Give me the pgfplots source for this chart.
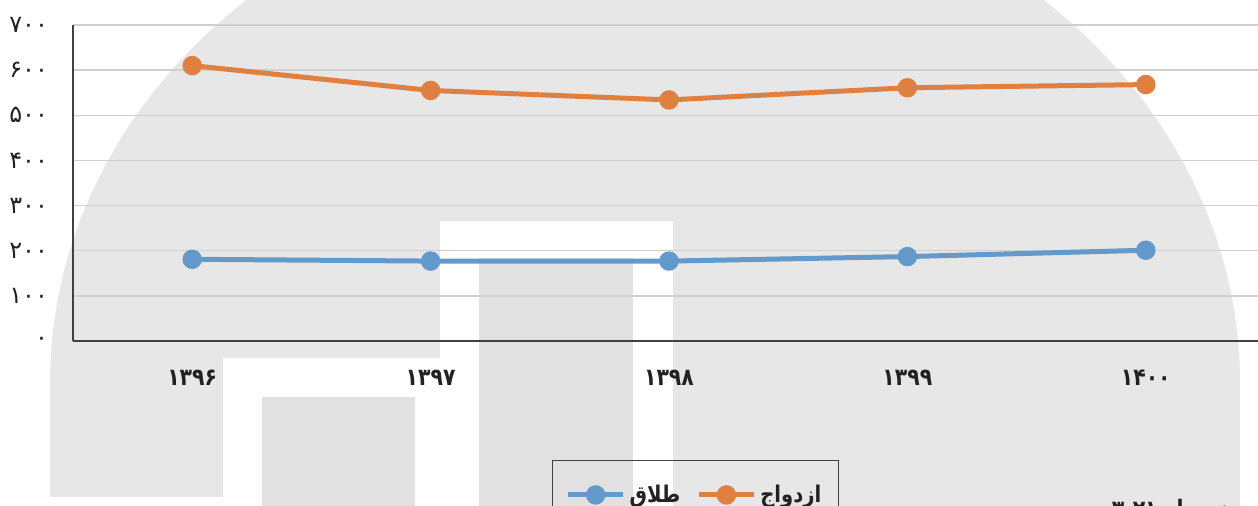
\documentclass[border=0pt]{standalone}
\usepackage{fontspec}
\usepackage{pgfplots}
\pgfplotsset{compat=1.18}
\TeXXeTstate=1
\newfontfamily\fa[Script=Arabic]{DejaVu Sans}
\newfontfamily\facond[Script=Arabic,FakeStretch=0.85]{DejaVu Sans}

\definecolor{orng}{HTML}{DF7F40}
\definecolor{blu}{HTML}{6499CB}
\definecolor{wm}{HTML}{E7E7E7}
\definecolor{wmdark}{HTML}{E1E1E1}
\definecolor{gridc}{HTML}{D0D0D0}
\definecolor{axc}{HTML}{404040}
\definecolor{txt}{HTML}{222222}

\begin{document}
\begin{tikzpicture}
\path[use as bounding box] (0,0) rectangle (629pt,253pt);
\clip (0,0) rectangle (629pt,253pt);

% watermark in the background (pixel units, y up)
\begin{scope}[x=0.5pt,y=0.5pt]
  \fill[wm] (50,0) -- (50,123) arc[start angle=180,end angle=0,x radius=595,y radius=516] -- (1240,0) -- cycle;
  \fill[white] (50,0) rectangle (223,9);
  \fill[white] (223,0) rectangle (479,148);
  \fill[white] (440,0) rectangle (479,285);
  \fill[white] (440,248) rectangle (673,285);
  \fill[white] (633,0) rectangle (673,285);
  \fill[wmdark] (262,0) rectangle (415,109);
  \fill[wmdark] (479,0) rectangle (633,248);
\end{scope}

\begin{axis}[
  at={(36.5pt,82.5pt)}, anchor=south west,
  scale only axis, width=596pt, height=158pt,
  xmin=-0.5, xmax=4.5, ymin=0, ymax=700,
  axis lines*=left,
  axis line style={draw=axc, line width=0.9pt, -},
  major tick length=0pt,
  xtick={0,1,2,3,4},
  xticklabels={۱۳۹۶,۱۳۹۷,۱۳۹۸,۱۳۹۹,۱۴۰۰},
  ytick={0,100,...,700},
  yticklabels={۰,۱۰۰,۲۰۰,۳۰۰,۴۰۰,۵۰۰,۶۰۰,۷۰۰},
  ymajorgrids, grid style={gridc, line width=0.7pt},
  yticklabel style={font=\fa\fontsize{12}{13}\selectfont, text=txt, xshift=-9pt},
  xticklabel style={font=\facond\bfseries\fontsize{12}{13}\selectfont, text=txt, yshift=-11pt},
  clip=false,
  legend columns=2,
  legend cell align=left,
  legend image code/.code={\draw[mark repeat=2,mark phase=2] plot coordinates {(0pt,0pt) (13.75pt,0pt) (27.5pt,0pt)};},
  legend style={at={(0.4018,-0.3766)}, anchor=north west, draw=axc, line width=0.7pt, fill=none,
    font=\facond\bfseries\fontsize{11.5}{13}\selectfont, text=txt,
    inner xsep=6.5pt, inner ysep=10pt,
    /tikz/every even column/.append style={column sep=6pt}},
]
\addplot[blu, line width=2.5pt, mark=*, mark size=3.6pt] coordinates {
  (0,181) (1,177) (2,177) (3,187) (4,201)};
\addlegendentry{\beginR طلاق\endR}
\addplot[orng, line width=2.5pt, mark=*, mark size=3.6pt] coordinates {
  (0,610) (1,555) (2,534) (3,561) (4,568)};
\addlegendentry{\beginR ازدواج\endR}
\end{axis}

\node[anchor=base, font=\facond\bfseries\fontsize{12}{14}\selectfont, text=txt] at (585pt,-6pt) {\beginR نمودار \beginL۳-۲۱\endL\endR};
\end{tikzpicture}
\end{document}
